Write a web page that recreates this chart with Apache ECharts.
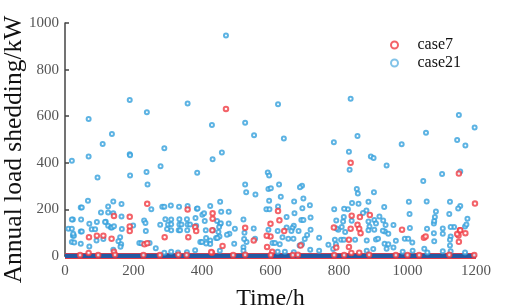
<!DOCTYPE html>
<html>
<head>
<meta charset="utf-8">
<script src="https://cdn.jsdelivr.net/npm/echarts@6/dist/echarts.min.js"></script>
<style>
  html, body { margin: 0; padding: 0; background: #fff; }
  #chart { width: 512px; height: 307px; }
</style>
</head>
<body>
<div id="chart"></div>
<script>
// hour, load shedding (kW)
var case7Points = [
  [470,631],[834,400],[1150,354],[1197,225],[240,224],[358,200],[431,183],[143,172],[189,168],[431,160],
  [626,153],[622,193],[600,138],[854,134],[837,173],[861,167],[890,176],[189,127],[380,124],[526,121],
  [785,122],[834,117],[859,117],[863,98],[1153,110],[1169,98],[1149,88],[1150,61],[984,113],[1048,78],
  [1053,84],[189,107],[383,107],[640,107],[430,110],[600,84],[589,87],[70,81],[93,87],[112,87],
  [136,74],[291,81],[360,81],[551,67],[829,70],[232,50],[240,55],[460,43],[688,45],[590,39],
  [829,39],[792,36],[143,18],[69,13],[429,14],[427,17],[605,18],[859,14],[836,13],[1145,94],[1154,111],
  [44,4],[97,4],[146,5],[229,4],[277,4],[331,5],[355,4],[491,4],[526,5],[601,4],[665,4],[680,5],
  [786,4],[815,4],[888,5],[966,4],[1000,4],[1034,4],[1122,5],[1195,4]
];
var case21Points = [
  [189,669],[239,617],[358,654],[69,588],[137,524],[110,481],[290,462],[189,437],
  [470,946],[622,651],[429,562],[526,572],[552,518],[639,504],[785,488],[458,444],
  [834,675],[1150,605],[1196,551],[854,515],[1054,529],[983,480],[1145,498],[1169,474],[829,447],
  [20,409],[69,427],[190,432],[95,337],[190,345],[238,361],[241,307],[279,385],[386,357],[431,415],
  [592,358],[596,345],[526,307],[529,274],[556,264],[625,307],[594,288],[630,254],[601,291],[692,302],
  [686,295],[696,247],[669,234],[596,237],[831,370],[893,427],[901,421],[939,388],[1046,322],[1101,352],
  [1154,363],[852,288],[855,268],[902,274],
  [67,237],[141,234],[165,223],[252,201],[284,211],[290,211],[309,217],[333,211],[358,215],[385,203],
  [46,208],[49,208],[23,157],[20,157],[47,157],[71,138],[141,184],[165,170],[119,147],[126,130],
  [134,122],[137,122],[143,128],[166,116],[199,131],[236,107],[278,134],[293,158],[310,157],[334,158],
  [356,158],[381,163],[310,110],[332,110],[336,110],[357,110],[298,116],[23,87],[26,87],[46,105],
  [49,105],[112,73],[20,60],[27,58],[46,53],[161,81],[156,63],[217,56],[223,55],[247,56],
  [71,41],[164,50],[162,40],[141,27],[265,33],[290,14],[310,18],[330,15],[356,16],[380,25],
  [126,212],[126,187],[105,187],[93,146],[117,146],[10,117],[20,117],[24,95],[78,115],[88,115],[92,67],
  [231,152],[235,142],[301,135],[310,136],[334,135],[340,135],[358,135],[365,135],[383,130],[411,110],
  [401,177],[406,184],[448,103],[444,150],[453,137],[480,95],[496,117],[494,53],[524,100],[530,60],[555,74],
  [387,204],[424,215],[453,233],[456,190],[478,190],[408,150],[455,141],[478,140],[521,157],[588,201],
  [597,201],[622,212],[647,167],[670,183],[693,205],[715,218],[717,165],[690,154],[696,154],[668,130],
  [664,120],[647,122],[621,107],[594,113],[551,118],[523,73],[432,111],[450,124],[473,91],[451,84],
  [424,67],[424,51],[412,77],[412,54],[441,77],[445,77],[395,60],[400,60],[452,23],[521,38],
  [521,23],[606,56],[613,56],[627,50],[635,80],[652,74],[667,74],[661,107],[682,107],[685,45],
  [692,50],[700,73],[707,90],[717,113],[742,78],[742,23],[716,27],[769,48],[783,30],[791,50],
  [786,201],[798,113],[668,16],[621,18],[642,18],
  [838,227],[857,224],[886,233],[932,210],[1004,233],[1006,180],[1056,234],[1124,233],[1122,180],[1154,215],
  [1148,204],[1175,160],[1168,127],[1136,125],[1126,125],[1126,84],[1124,45],[1124,70],[1103,118],[1077,140],
  [1077,98],[1057,117],[1078,150],[1083,191],[1007,120],[992,74],[1002,74],[1014,58],[986,18],[1015,22],
  [1049,31],[1058,15],[1103,20],[1126,20],[1168,15],[1080,167],[1172,135],[1103,95],[1078,63],[966,65],
  [793,118],[886,148],[889,127],[886,111],[903,155],[908,140],[903,113],[918,170],[929,152],[934,105],
  [928,108],[936,133],[959,133],[944,95],[881,67],[908,71],[914,74],[933,53],[944,50],[959,36],
  [881,23],[900,30],[939,31],[806,70],[814,70],[818,103],[808,124],[812,148],[814,167],[837,151],
  [847,70],[788,70],[792,152],[826,201],[815,203],[880,195],[870,185]
];
// the many zero-shedding hours form a solid run along 0
var case7ZeroRun = [[0,0],[1200,0]];
var case21ZeroRun = [[0,0],[1200,0]];
var yTicks = [0, 200, 400, 600, 800, 1000];
var xTicks = [0, 200, 400, 600, 800, 1000, 1200];

var serif = "'Liberation Serif', 'Times New Roman', serif";
var red = '#f03c44';
var blue = '#35a0dc';

var chart = echarts.init(document.getElementById('chart'));
var option = {
  animation: false,
  backgroundColor: '#fff',
  grid: { left: 65, right: 36, top: 23, bottom: 51, containLabel: false, outerBoundsMode: 'none' },
  legend: {
    orient: 'vertical',
    left: 385,
    top: 32,
    itemWidth: 36,
    itemHeight: 7,
    itemGap: 2,
    textStyle: { fontFamily: serif, fontSize: 16, color: '#111', lineHeight: 16 },
    data: [
      { name: 'case7', icon: 'emptyCircle', itemStyle: { color: red, borderColor: red, borderWidth: 1.8 } },
      { name: 'case21', icon: 'emptyCircle', itemStyle: { color: '#63b4e2', borderColor: '#63b4e2', borderWidth: 1.6 } }
    ]
  },
  xAxis: {
    type: 'value',
    min: xTicks[0],
    max: xTicks[xTicks.length - 1],
    interval: 200,
    name: 'Time/h',
    nameLocation: 'middle',
    nameGap: 31,
    nameMoveOverlap: false,
    nameTextStyle: { fontFamily: serif, fontSize: 24, color: '#111' },
    axisLine: { show: true, lineStyle: { color: '#444', width: 1.5 } },
    axisTick: { show: false },
    splitLine: { show: false },
    axisLabel: { fontFamily: serif, fontSize: 15, color: '#555', margin: 8, formatter: function (v) { return String(v); } }
  },
  yAxis: {
    type: 'value',
    min: yTicks[0],
    max: yTicks[yTicks.length - 1],
    interval: 200,
    name: 'Annual load shedding/kW',
    nameLocation: 'middle',
    nameGap: 38,
    nameMoveOverlap: false,
    nameTextStyle: { fontFamily: serif, fontSize: 25.5, color: '#111', padding: [0, 20, 0, 0] },
    axisLine: { show: true, lineStyle: { color: '#444', width: 1.5 } },
    axisTick: { show: true, inside: true, length: 4, lineStyle: { color: '#444', width: 1.5 } },
    splitLine: { show: false },
    axisLabel: { fontFamily: serif, fontSize: 15, color: '#555', margin: 6, formatter: function (v) { return String(v); } }
  },
  series: [
    {
      name: 'case7',
      type: 'scatter',
      z: 4,
      symbol: 'emptyCircle',
      symbolSize: 4.5,
      itemStyle: { color: red, borderWidth: 1.8 },
      data: case7Points
    },
    {
      name: 'case21',
      type: 'scatter',
      z: 3,
      symbol: 'emptyCircle',
      symbolSize: 4,
      itemStyle: { color: blue, borderWidth: 1.3 },
      data: case21Points
    },
    {
      name: 'case7 zero',
      type: 'line',
      z: 1,
      symbol: 'none',
      lineStyle: { color: red, width: 6 },
      data: case7ZeroRun
    },
    {
      name: 'case21 zero',
      type: 'line',
      z: 2,
      symbol: 'none',
      lineStyle: { color: '#2459a4', width: 4.5 },
      data: case21ZeroRun
    }
  ]
};
chart.setOption(option);
</script>
</body>
</html>
